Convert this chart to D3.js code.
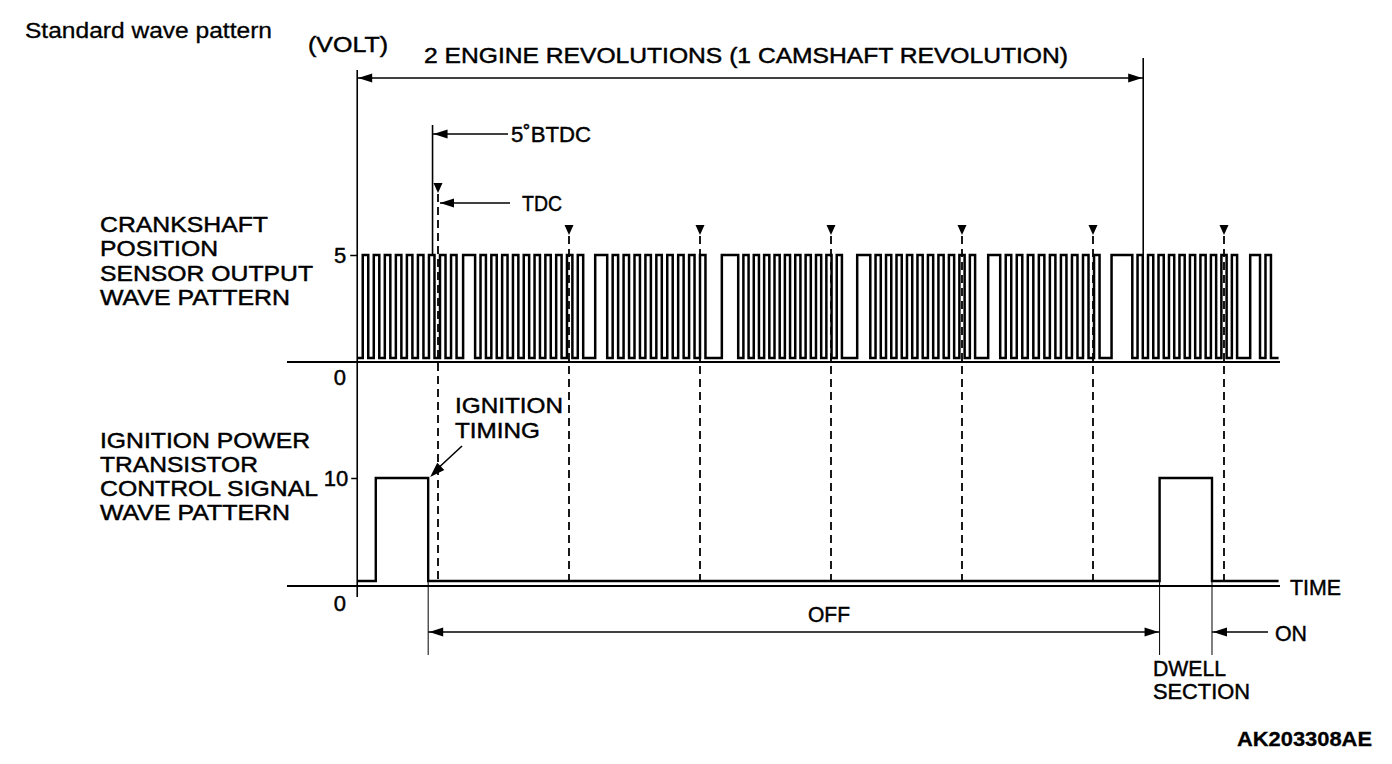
<!DOCTYPE html>
<html><head><meta charset="utf-8">
<script src="https://cdn.jsdelivr.net/npm/d3@7"></script>
<style>html,body{margin:0;padding:0;background:#fff;}svg{display:block;}</style>
</head><body>
<svg id="c" width="1392" height="764"></svg>
<script>
// ---------- data (crank angle in degrees, 0 = first TDC) ----------
const chartStartDeg = -74;
const chartEndDeg = 770;
const revolutionSpanDeg = 720;           // 2 engine revolutions
const tdcMarksDeg = [0, 120, 240, 360, 480, 600, 720];
const btdcDeg = -5;
// crankshaft sensor: missing-tooth sections
const gapLowStart  = [17, 133, 245, 370, 492, 606, 732];
const gapHighStart = [23, 144, 260, 384, 504, 617, 744];
const gapHighEnd   = [34, 155, 275, 396, 515, 636, 753];
const toothPitchDeg = 10;
const crankHighV = 5, crankLowV = 0;
// ignition power transistor control signal
const ignEdgesDeg = [-74, -57, -9, 661, 709, 770];
const ignLevelsV  = [0, 10, 0, 10, 0, 0];
const crankTicks = [5];
const ignTicks = [10];
const leftLabelsCrank = ["CRANKSHAFT", "POSITION", "SENSOR OUTPUT", "WAVE PATTERN"];
const leftLabelsIgn = ["IGNITION POWER", "TRANSISTOR", "CONTROL SIGNAL", "WAVE PATTERN"];

// ---------- scales ----------
const x = d3.scaleLinear().domain([0, 720]).range([438, 1224]);
const yC = d3.scaleLinear().domain([0, 5]).range([358, 255]);
const yI = d3.scaleLinear().domain([0, 10]).range([581, 478]);

const svg = d3.select("#c");
const FONT = "'Liberation Sans', Arial, Helvetica, sans-serif";
svg.append("rect").attr("width", 1392).attr("height", 764).attr("fill", "#fff");

function txt(s, tx, ty, len, opts = {}) {
  const t = svg.append("text").attr("x", tx).attr("y", ty).text(s)
    .attr("font-family", FONT).attr("font-size", opts.size || 22)
    .attr("font-weight", opts.weight || "normal").attr("fill", "#000")
    .attr("stroke", "#000").attr("stroke-width", opts.sw == null ? 0.45 : opts.sw);
  if (len) t.attr("textLength", len).attr("lengthAdjust", "spacingAndGlyphs");
  if (opts.anchor) t.attr("text-anchor", opts.anchor);
  return t;
}
function line(x1, y1, x2, y2, w = 1.5, dash = null) {
  const l = svg.append("line").attr("x1", x1).attr("y1", y1).attr("x2", x2).attr("y2", y2)
    .attr("stroke", "#000").attr("stroke-width", w);
  if (dash) l.attr("stroke-dasharray", dash);
  return l;
}
function arrowHead(tx, ty, dx, dy, len = 14, half = 4.5) {
  const m = Math.hypot(dx, dy); dx /= m; dy /= m;
  const bx = tx - dx * len, by = ty - dy * len;
  const px = -dy * half, py = dx * half;
  svg.append("path").attr("d", `M${tx},${ty}L${bx + px},${by + py}L${bx - px},${by - py}Z`).attr("fill", "#000");
}

// ---------- crank signal transitions ----------
const crank = [];
function teethSpan(a, b) {          // starts low, ends high exactly at b
  const n = Math.max(1, Math.round((b - a) / toothPitchDeg));
  const p = (b - a) / n;
  for (let k = 0; k < n; k++) {
    crank.push([a + k * p, crankLowV]);
    crank.push([a + k * p + p / 2, crankHighV]);
  }
}
teethSpan(chartStartDeg, gapLowStart[0]);
for (let i = 0; i < gapLowStart.length; i++) {
  crank.push([gapLowStart[i], crankLowV]);
  crank.push([gapHighStart[i], crankHighV]);
  if (i + 1 < gapLowStart.length) teethSpan(gapHighEnd[i], gapLowStart[i + 1]);
}
{ // tail after last gap
  let a = gapHighEnd[gapHighEnd.length - 1];
  while (a + toothPitchDeg <= chartEndDeg) {
    crank.push([a, crankLowV]); crank.push([a + toothPitchDeg / 2, crankHighV]);
    a += toothPitchDeg;
  }
  crank.push([a, crankLowV]);
  crank.push([chartEndDeg, crankLowV]);
}

// ---------- dashed TDC markers ----------
tdcMarksDeg.forEach((d, i) => {
  const top = i === 0 ? 183 : 225;
  svg.append("path").attr("d", `M${x(d) - 4.5},${top}L${x(d) + 4.5},${top}L${x(d)},${top + 10}Z`).attr("fill", "#000");
  line(x(d), top + 11, x(d), 584, 1.8, "8,5");
});

// ---------- axes lines ----------
line(287, yC(0) + 4, 1280, yC(0) + 4, 2.2);
line(287, yI(0) + 5, 1280, yI(0) + 5, 2.2);
line(x(chartStartDeg), 70, x(chartStartDeg), 597, 1.6);
// y ticks
svg.append("g").attr("transform", `translate(${x(chartStartDeg)},0)`)
  .call(d3.axisLeft(yC).tickValues(crankTicks).tickFormat(d3.format("d")).tickSize(7).tickPadding(4))
  .call(g => g.select(".domain").remove());
svg.append("g").attr("transform", `translate(${x(chartStartDeg)},0)`)
  .call(d3.axisLeft(yI).tickValues(ignTicks).tickFormat(d3.format("d")).tickSize(6).tickPadding(3))
  .call(g => g.select(".domain").remove());
svg.selectAll(".tick line").attr("stroke-width", 1.5).attr("stroke", "#000");
svg.selectAll(".tick text").attr("font-family", FONT).attr("font-size", 22).attr("fill", "#000")
  .attr("stroke", "#000").attr("stroke-width", 0.45);
txt("0", 346, yC(0) + 27, null, { anchor: "end" });
txt("0", 346, yI(0) + 30, null, { anchor: "end" });

// ---------- signals ----------
const stepLine = d3.line().curve(d3.curveStepAfter);
svg.append("path")
  .attr("d", stepLine(crank.map(d => [x(d[0]), yC(d[1])])))
  .attr("fill", "none").attr("stroke", "#000").attr("stroke-width", 2.5);
svg.append("path")
  .attr("d", stepLine(ignEdgesDeg.map((d, i) => [x(d), yI(ignLevelsV[i])])))
  .attr("fill", "none").attr("stroke", "#000").attr("stroke-width", 2.4);

// ---------- top annotations ----------
txt("Standard wave pattern", 25, 38, 247, { sw: 0.3 });
txt("(VOLT)", 308, 52, 80);
txt("2 ENGINE REVOLUTIONS (1 CAMSHAFT REVOLUTION)", 424, 63, 644);
const revEnd = chartStartDeg + revolutionSpanDeg;
line(x(revEnd), 58, x(revEnd), 255, 1.6);
line(x(chartStartDeg), 78, x(revEnd), 78, 1.6);
arrowHead(x(chartStartDeg) + 1, 78, -1, 0);
arrowHead(x(revEnd) - 1, 78, 1, 0);

// 5°BTDC
line(x(btdcDeg), 125, x(btdcDeg), 256, 1.6);
line(x(btdcDeg), 134, 508, 134, 1.6);
arrowHead(x(btdcDeg) + 1, 134, -1, 0);
txt("5˚BTDC", 511, 142, 80);
// TDC
line(x(0) + 2, 203, 510, 203, 1.6);
arrowHead(x(0) + 2, 203, -1, 0);
txt("TDC", 522, 211, 40);

// left labels
const widths = { "CRANKSHAFT": 168, "POSITION": 118, "SENSOR OUTPUT": 213, "WAVE PATTERN": 190,
  "IGNITION POWER": 210, "TRANSISTOR": 158, "CONTROL SIGNAL": 218 };
leftLabelsCrank.forEach((s, i) => txt(s, 100, 232 + i * 24.3, widths[s]));
leftLabelsIgn.forEach((s, i) => txt(s, 100, 448 + i * 24, widths[s]));

// ignition timing
txt("IGNITION", 455, 413, 108);
txt("TIMING", 455, 438, 85);
line(462, 446, x(ignEdgesDeg[2]) + 8, 470, 1.6);
arrowHead(x(ignEdgesDeg[2]) + 2, 477, -1, 1, 15, 5);

// OFF / ON / DWELL
const offA = x(ignEdgesDeg[2]), offB = x(ignEdgesDeg[3]), onB = x(ignEdgesDeg[4]);
line(offA, yI(10), offA, 655, 1);
line(offB, yI(10), offB, 655, 1);
line(onB, yI(10), onB, 655, 1);
line(offA, 632, offB, 632, 1.6);
arrowHead(offA + 1, 632, -1, 0);
arrowHead(offB - 1, 632, 1, 0);
line(onB, 632, 1268, 632, 1.6);
arrowHead(onB + 1, 632, -1, 0);
txt("OFF", 808, 622, 42);
txt("ON", 1275, 641, 32);
txt("TIME", 1290, 595, 51);
txt("DWELL", 1153, 676, 73);
txt("SECTION", 1153, 699, 97);
txt("AK203308AE", 1237, 746, 135, { weight: "bold", size: 20, sw: 0.3 });
</script>
</body></html>
